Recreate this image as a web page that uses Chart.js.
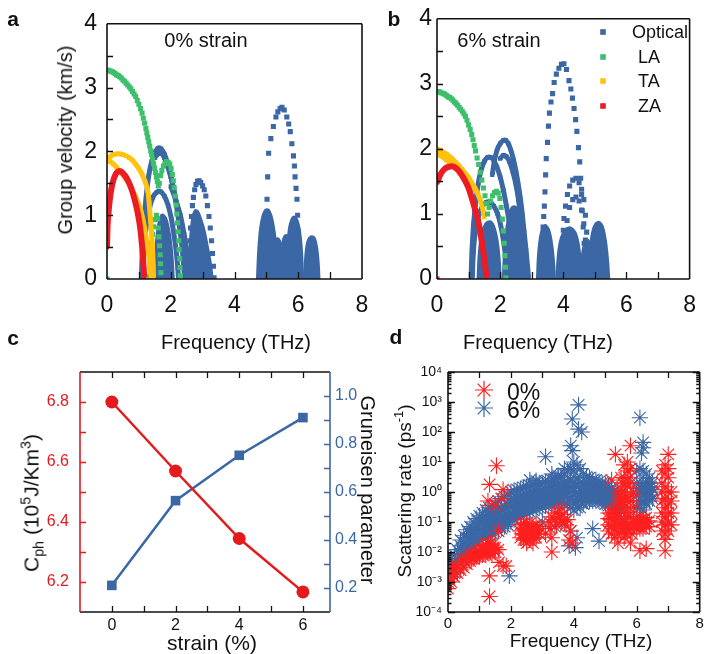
<!DOCTYPE html>
<html>
<head>
<meta charset="utf-8">
<script src="https://cdn.jsdelivr.net/npm/chart.js@4.4.1/dist/chart.umd.min.js"></script>
<style>
  body { margin: 0; background: #fff; }
  #wrap { position: relative; width: 709px; height: 654px; overflow: hidden; font-family: 'Liberation Sans', Arial, sans-serif; color: #111; }
  canvas { position: absolute; left: 0; top: 0; }
  .t { position: absolute; white-space: nowrap; line-height: 1; transform: translate(-50%, -50%); }
  .up { transform: translate(-50%, -50%) rotate(-90deg); }
  .down { transform: translate(-50%, -50%) rotate(90deg); }
  .lt { position: absolute; white-space: nowrap; line-height: 1; transform: translateY(-50%); }
  .b { font-weight: bold; font-size: 21px; }
  sub, sup { font-size: 0.68em; line-height: 0; }
</style>
</head>
<body>
<div id="wrap">
  <canvas id="pa" width="709" height="654"></canvas>
  <canvas id="pb" width="709" height="654"></canvas>
  <canvas id="pc" width="709" height="654"></canvas>
  <canvas id="pd" width="709" height="654"></canvas>

  <div class="t b" style="left:13px;top:18px">a</div>
  <div class="t b" style="left:394px;top:18px">b</div>
  <div class="t b" style="left:13px;top:337px">c</div>
  <div class="t b" style="left:396px;top:336px">d</div>

  <div class="t" style="left:206px;top:40px;font-size:20px">0% strain</div>
  <div class="t" style="left:499px;top:40px;font-size:20px">6% strain</div>

  <div class="lt" style="left:632px;top:32px;font-size:18px">Optical</div>
  <div class="lt" style="left:638px;top:57px;font-size:18px">LA</div>
  <div class="lt" style="left:638px;top:81px;font-size:18px">TA</div>
  <div class="lt" style="left:638px;top:106px;font-size:18px">ZA</div>

  <div class="t up" style="left:65px;top:140px;font-size:20px">Group velocity (km/s)</div>
  <div class="t" style="left:236px;top:342px;font-size:20px">Frequency (THz)</div>
  <div class="t" style="left:538px;top:342px;font-size:20px">Frequency (THz)</div>

  <div class="t up" style="left:31px;top:503px;font-size:21px">C<sub>ph</sub> (10<sup>5</sup>J/Km<sup>3</sup>)</div>
  <div class="t down" style="left:368px;top:490px;font-size:20px">Gruneisen parameter</div>
  <div class="t" style="left:212px;top:642px;font-size:21px">strain (%)</div>

  <div class="lt" style="left:507px;top:392px;font-size:23px">0%</div>
  <div class="lt" style="left:507px;top:410px;font-size:23px">6%</div>
  <div class="t up" style="left:404px;top:491px;font-size:19px">Scattering rate (ps<sup>-1</sup>)</div>
  <div class="t" style="left:581px;top:640px;font-size:19px">Frequency (THz)</div>
</div>

<script>
const W = 709, H = 654;
const F = "'Liberation Sans', Arial, sans-serif";
Chart.defaults.font.family = F;

const INK = '#111';
const BLUE = '#3b67a5', GREEN = '#3dbf6c', YELLOW = '#ffc20e', RED = '#ec1c24';
const C_RED = '#e41a1c', D_RED = '#ff1f1f';

// ---------- axes / ticks ----------
const abXLabels = [0, 2, 4, 6, 8];
const abYLabels = [0, 1, 2, 3, 4];
const abXMarks = [1, 2, 3, 4, 5, 6, 7];
const abYMarks = [0.5, 1, 1.5, 2, 2.5, 3, 3.5];

const cXLabels = [0, 2, 4, 6];
const cXMarks = [0, 1, 2, 3, 4, 5, 6];
const cYLabels = [6.2, 6.4, 6.6, 6.8];
const cYMarks = [6.2, 6.3, 6.4, 6.5, 6.6, 6.7, 6.8];
const cY2Labels = [0.2, 0.4, 0.6, 0.8, 1.0];
const cY2Marks = [0.2, 0.3, 0.4, 0.5, 0.6, 0.7, 0.8, 0.9, 1.0];

const dXLabels = [0, 2, 4, 6, 8];
const dXMarks = [1, 2, 3, 4, 5, 6, 7];
const dYLabels = [1e-4, 1e-3, 1e-2, 1e-1, 1, 1e1, 1e2, 1e3, 1e4];

// ---------- panel a (0% strain), points [frequency THz, group velocity km/s] ----------
const aZA = [
  [[0,0.5],[0.02,0.85],[0.05,1.05],[0.09,1.25],[0.14,1.42],[0.2,1.55],[0.27,1.64],[0.34,1.68],[0.42,1.69],[0.5,1.66],[0.58,1.61],[0.66,1.54],[0.74,1.45],[0.82,1.33],[0.9,1.18],[0.97,1.02],[1.03,0.84],[1.08,0.62],[1.12,0.4],[1.15,0.18],[1.17,0.02]]
];
const aTA = [
  [[0,1.88],[0.1,1.92],[0.2,1.95],[0.3,1.96],[0.4,1.96],[0.5,1.95],[0.6,1.93],[0.7,1.9],[0.8,1.86],[0.9,1.8],[1.0,1.73],[1.1,1.64],[1.2,1.52],[1.28,1.38],[1.32,1.2],[1.36,0.95],[1.4,0.7],[1.43,0.45],[1.45,0.2],[1.46,0.03]],
  [[0,1.86],[0.1,1.84],[0.2,1.8],[0.3,1.75],[0.4,1.69],[0.5,1.63],[0.6,1.56],[0.7,1.48],[0.8,1.39],[0.9,1.29],[1.0,1.17],[1.08,1.04],[1.15,0.88],[1.22,0.68],[1.28,0.48],[1.33,0.28],[1.37,0.1],[1.39,0.02]]
];
const aLA = [
  [[0,3.27],[0.05,3.27],[0.1,3.26],[0.15,3.25],[0.2,3.24],[0.25,3.22],[0.3,3.2],[0.35,3.19],[0.4,3.17],[0.45,3.15],[0.5,3.12],[0.55,3.1],[0.6,3.07],[0.65,3.04],[0.7,3.01],[0.75,2.98],[0.8,2.94],[0.85,2.9],[0.9,2.86],[0.95,2.8],[1.0,2.74],[1.05,2.67],[1.1,2.6],[1.14,2.52],[1.18,2.44],[1.22,2.36],[1.25,2.29],[1.28,2.22],[1.31,2.15],[1.34,2.08],[1.37,2.01],[1.4,1.95],[1.43,1.88],[1.46,1.81],[1.49,1.74],[1.52,1.67],[1.55,1.6],[1.58,1.53],[1.61,1.46]],
  [[1.64,1.5],[1.68,1.62],[1.72,1.7],[1.77,1.77],[1.82,1.81],[1.87,1.84],[1.92,1.83],[1.97,1.8],[2.01,1.73],[2.05,1.64],[2.08,1.54],[2.11,1.43],[2.14,1.3],[2.17,1.16],[2.19,1.02],[2.21,0.88],[2.23,0.74],[2.25,0.6],[2.26,0.46],[2.28,0.32],[2.29,0.18],[2.3,0.05]],
  [[1.34,0.04],[1.35,0.17],[1.36,0.3],[1.38,0.43],[1.4,0.56],[1.43,0.7],[1.46,0.82],[1.5,0.93],[1.55,1.0],[1.59,0.94],[1.61,0.8],[1.63,0.66],[1.65,0.52],[1.67,0.38],[1.68,0.24],[1.69,0.1]],
  [[0,0]]
];
const aOptLines = [
  [[1.08,0.02],[1.11,0.45],[1.16,0.9],[1.23,1.3],[1.31,1.62],[1.4,1.84],[1.5,1.98],[1.6,2.05],[1.7,2.04],[1.8,1.96],[1.9,1.82],[2.0,1.62],[2.1,1.38],[2.2,1.08],[2.3,0.72],[2.38,0.36],[2.43,0.02]],
  [[1.5,1.9],[1.6,1.96],[1.7,1.97],[1.8,1.9],[1.92,1.74],[2.04,1.52],[2.16,1.24],[2.28,0.9],[2.4,0.52],[2.5,0.2],[2.54,0.02]],
  [[1.1,0.02],[1.14,0.4],[1.22,0.78],[1.32,1.08],[1.44,1.28],[1.56,1.36],[1.68,1.37],[1.8,1.3],[1.92,1.15],[2.02,0.94],[2.1,0.7],[2.17,0.44],[2.22,0.18],[2.24,0.02]],
  [[2.0,1.45],[2.15,1.25],[2.3,1.0],[2.42,0.7],[2.52,0.4],[2.6,0.15],[2.64,0.02]]
];
const aOptFill = [
  [[1.5,0],[1.54,0.5],[1.62,0.85],[1.72,1.0],[1.84,0.95],[1.96,0.7],[2.04,0.35],[2.08,0]],
  [[2.58,0],[2.6,0.4],[2.64,0.75],[2.7,0.98],[2.77,1.07],[2.85,1.05],[2.95,0.92],[3.05,0.75],[3.15,0.5],[3.24,0.25],[3.3,0]],
  [[4.72,0],[4.76,0.45],[4.82,0.8],[4.9,1.0],[4.98,1.08],[5.06,1.08],[5.14,1.0],[5.22,0.82],[5.3,0.52],[5.36,0.2],[5.38,0]],
  [[5.15,0],[5.2,0.35],[5.27,0.56],[5.35,0.63],[5.43,0.57],[5.5,0.38],[5.55,0]],
  [[5.42,0],[5.47,0.4],[5.54,0.62],[5.62,0.68],[5.7,0.62],[5.76,0.4],[5.8,0]],
  [[5.62,0],[5.66,0.45],[5.72,0.78],[5.8,0.93],[5.88,0.97],[5.96,0.92],[6.04,0.75],[6.1,0.45],[6.14,0]],
  [[6.2,0],[6.24,0.38],[6.3,0.58],[6.4,0.66],[6.5,0.64],[6.58,0.48],[6.63,0.22],[6.65,0]]
];
const aOptDots = [
  [[2.56,0.02],[2.57,0.2],[2.58,0.4],[2.6,0.6],[2.62,0.8],[2.65,0.98],[2.68,1.15],[2.71,1.28],[2.75,1.4],[2.79,1.48],[2.84,1.53],[2.89,1.54],[2.94,1.51],[3.0,1.46],[3.05,1.4],[3.1,1.3],[3.15,1.15],[3.2,0.98],[3.24,0.8],[3.28,0.6],[3.31,0.4],[3.34,0.2],[3.36,0.02]],
  [[4.86,0.02],[4.9,0.3],[4.95,0.6],[4.99,0.92],[5.02,1.25],[5.04,1.6],[5.07,1.97],[5.14,2.2],[5.22,2.39],[5.3,2.54],[5.36,2.62],[5.43,2.67],[5.49,2.69],[5.56,2.65],[5.64,2.54],[5.7,2.43],[5.75,2.31],[5.8,2.12],[5.85,1.93],[5.88,1.77],[5.9,1.6],[5.93,1.42],[5.96,1.25],[5.98,1.0],[6.0,0.75],[6.02,0.5],[6.03,0.25],[6.04,0.02]]
];

// ---------- panel b (6% strain) ----------
const bZA = [
  [[0,1.48],[0.04,1.53],[0.1,1.6],[0.18,1.66],[0.26,1.7],[0.34,1.72],[0.42,1.73],[0.5,1.73],[0.58,1.71],[0.66,1.68],[0.74,1.63],[0.82,1.57],[0.9,1.5],[0.98,1.42],[1.06,1.31],[1.14,1.18],[1.22,1.04],[1.3,0.9],[1.37,0.72],[1.43,0.54],[1.49,0.34],[1.54,0.14],[1.57,0.02]]
];
const bZADots = [[[0,0]]];
const bTA = [
  [[0,2.0],[0.1,1.98],[0.2,1.95],[0.3,1.92],[0.4,1.88],[0.5,1.84],[0.6,1.79],[0.7,1.74],[0.8,1.68],[0.9,1.62],[1.0,1.56],[1.1,1.48],[1.2,1.4],[1.3,1.3],[1.38,1.2],[1.45,1.08],[1.5,0.95]],
  [[0,1.92],[0.1,1.9],[0.2,1.87],[0.3,1.83],[0.4,1.79],[0.5,1.75],[0.6,1.7],[0.7,1.64],[0.8,1.58],[0.9,1.52],[1.0,1.45],[1.1,1.37]]
];
const bLA = [
  [[0,2.88],[0.05,2.88],[0.1,2.87],[0.15,2.86],[0.2,2.85],[0.25,2.84],[0.3,2.82],[0.35,2.8],[0.4,2.79],[0.45,2.77],[0.5,2.75],[0.55,2.72],[0.6,2.7],[0.65,2.67],[0.7,2.64],[0.75,2.61],[0.8,2.58],[0.85,2.54],[0.9,2.5],[0.95,2.44],[1.0,2.37],[1.05,2.3],[1.1,2.22],[1.14,2.14],[1.18,2.05],[1.22,1.97],[1.27,1.86],[1.32,1.76],[1.37,1.64],[1.42,1.52],[1.47,1.4],[1.52,1.28],[1.56,1.16]],
  [[1.6,1.0],[1.65,1.1],[1.7,1.2],[1.76,1.28],[1.82,1.33],[1.88,1.35],[1.94,1.32],[1.99,1.24],[2.03,1.1],[2.07,0.92],[2.1,0.74],[2.13,0.55],[2.15,0.36],[2.17,0.18],[2.18,0.02]]
];
const bOptLines = [
  [[1.08,0.02],[1.11,0.45],[1.16,0.85],[1.23,1.2],[1.31,1.48],[1.4,1.68],[1.5,1.81],[1.6,1.87],[1.7,1.87],[1.8,1.82],[1.9,1.72],[2.0,1.57],[2.1,1.37],[2.2,1.12],[2.3,0.84],[2.4,0.54],[2.5,0.24],[2.56,0.02]],
  [[1.75,1.6],[1.82,1.82],[1.9,1.98],[2.0,2.08],[2.1,2.13],[2.18,2.13],[2.26,2.08],[2.34,1.98],[2.42,1.84],[2.5,1.66],[2.57,1.46],[2.64,1.24],[2.7,1.0],[2.76,0.72],[2.82,0.44],[2.87,0.18],[2.9,0.02]],
  [[2.0,1.85],[2.1,1.9],[2.2,1.88],[2.3,1.8],[2.4,1.65],[2.5,1.45],[2.58,1.22],[2.65,0.95],[2.72,0.65],[2.78,0.35],[2.82,0.02]],
  [[1.12,0.02],[1.15,0.4],[1.22,0.75],[1.32,0.98],[1.44,1.12],[1.56,1.18],[1.68,1.18],[1.8,1.12],[1.92,1.0],[2.02,0.82],[2.1,0.6],[2.17,0.36],[2.22,0.12],[2.24,0.02]]
];
const bOptFill = [
  [[1.3,0],[1.34,0.4],[1.42,0.7],[1.55,0.85],[1.68,0.88],[1.8,0.8],[1.9,0.6],[1.97,0.3],[2.0,0]],
  [[2.1,0],[2.15,0.5],[2.25,0.9],[2.38,1.1],[2.5,1.1],[2.6,0.85],[2.7,0.4],[2.75,0]],
  [[3.18,0],[3.22,0.4],[3.3,0.7],[3.42,0.82],[3.54,0.75],[3.64,0.5],[3.7,0.2],[3.72,0]],
  [[3.8,0],[3.85,0.4],[3.95,0.65],[4.1,0.77],[4.25,0.78],[4.4,0.68],[4.5,0.45],[4.56,0]],
  [[4.55,0],[4.6,0.35],[4.68,0.55],[4.76,0.6],[4.84,0.52],[4.9,0.3],[4.93,0]],
  [[4.8,0],[4.84,0.4],[4.92,0.7],[5.02,0.84],[5.13,0.87],[5.24,0.8],[5.33,0.6],[5.4,0.3],[5.44,0]]
];
const bOptDots = [
  [[3.36,0.8],[3.38,0.96],[3.4,1.12],[3.42,1.34],[3.44,1.6],[3.46,1.85],[3.5,2.1],[3.53,2.35],[3.56,2.55],[3.61,2.72],[3.66,2.85],[3.71,3.02],[3.78,3.15],[3.86,3.24],[3.94,3.3],[4.02,3.31],[4.1,3.22],[4.18,3.05],[4.24,2.92],[4.29,2.78],[4.34,2.62],[4.39,2.45],[4.43,2.27],[4.48,2.02],[4.52,1.8],[4.55,1.55],[4.58,1.3],[4.6,1.05],[4.63,0.8],[4.66,0.55],[4.69,0.3],[4.71,0.05]],
  [[3.93,0.1],[3.95,0.35],[3.97,0.55],[4.0,0.75],[4.02,0.93],[4.07,1.12],[4.13,1.3],[4.2,1.43],[4.3,1.52],[4.4,1.55],[4.5,1.48],[4.58,1.38],[4.65,1.22],[4.7,0.98],[4.74,0.72],[4.77,0.45],[4.79,0.2],[4.8,0.02]],
  [[4.05,0.6],[4.12,0.9],[4.2,1.1],[4.3,1.22],[4.4,1.26],[4.5,1.2],[4.58,1.06],[4.65,0.85],[4.7,0.6]]
];

// ---------- panel c ----------
const cStrain = [0, 2, 4, 6];
const cCph = [6.80, 6.57, 6.345, 6.167];
const cGruneisen = [0.211, 0.564, 0.753, 0.91];

// ---------- panel d, points [frequency THz, scattering rate ps^-1] ----------
const dRate0 = [
  [0.0,6e-4],[0.0,1e-3],[0.05,1.5e-3],[0.1,1e-3],[0.1,1.8e-3],[0.15,3e-3],[0.2,1.5e-3],[0.2,2.5e-3],[0.3,2e-3],[0.3,3.5e-3],[0.4,2.5e-3],[0.4,4.5e-3],[0.5,3e-3],[0.5,5.5e-3],[0.6,4e-3],[0.6,6.5e-3],[0.7,5e-3],[0.7,8e-3],[0.8,6e-3],[0.8,9e-3],[0.9,7e-3],[0.9,1e-2],[1.0,7e-3],[1.0,1.1e-2],[1.1,8e-3],[1.1,1.2e-2],[1.1,1.6e-2],[1.2,8e-3],[1.2,1.2e-2],[1.2,1.7e-2],[1.3,9e-3],[1.3,1.3e-2],[1.3,1.8e-2],[1.4,9e-3],[1.4,1.3e-2],[1.4,1.7e-2],[1.5,1e-2],[1.5,1.4e-2],[1.6,1.2e-2],
  [0.75,6e-3],[0.85,7e-3],[0.95,8e-3],[1.15,1e-2],[1.25,1e-2],[1.35,1.1e-2],[1.45,1.2e-2],[1.25,1.5e-2],[1.35,2e-2],
  [1.32,1.6e-3],[1.32,3.3e-4],[1.54,7.5],[1.32,1.8],[1.27,0.5],[1.75,1.2],[1.7,0.6],[1.85,3.4e-3],[1.75,3.4e-3],[1.62,4.5e-3],[1.5,0.35],[1.6,0.05],
  [2.3,3e-2],[2.3,5e-2],[2.3,8e-2],[2.4,2.5e-2],[2.4,4e-2],[2.4,6e-2],[2.4,9e-2],[2.5,2.5e-2],[2.5,4e-2],[2.5,6e-2],[2.5,9e-2],[2.6,2.5e-2],[2.6,4e-2],[2.6,6e-2],[2.6,9e-2],[2.7,3e-2],[2.7,5e-2],[2.7,7e-2],[2.8,3e-2],[2.8,5e-2],[2.8,8e-2],[2.9,4e-2],[2.9,7e-2],[2.5,2e-2],[2.7,2e-2],
  [2.35,4e-2],[2.45,5e-2],[2.55,5e-2],[2.65,5e-2],[2.75,4e-2],[2.85,6e-2],
  [3.1,0.04],[3.2,0.1],[3.25,0.06],[3.3,0.15],[3.3,0.01],[3.3,0.03],[3.4,0.12],[3.45,0.08],[3.5,0.2],[3.55,0.15],[3.6,0.1],[3.65,0.18],[3.7,0.1],[3.75,0.08],[3.8,0.12],[3.85,0.025],[3.9,0.05],[3.95,0.02],[3.4,0.2],[3.6,0.3],
  [5.1,0.05],[5.1,0.08],[5.1,0.13],[5.1,0.2],[5.2,0.04],[5.2,0.07],[5.2,0.12],[5.2,0.2],[5.3,0.03],[5.3,0.06],[5.3,0.1],[5.3,0.2],[5.35,0.3],[5.4,0.04],[5.4,0.08],[5.4,0.15],[5.4,0.4],[5.4,1],[5.45,0.15],[5.45,0.6],
  [5.5,0.05],[5.5,0.1],[5.5,0.3],[5.5,1],[5.5,3],[5.55,0.07],[5.55,0.5],[5.55,2],[5.6,0.05],[5.6,0.1],[5.6,0.3],[5.6,1],[5.6,3],[5.6,8],[5.65,0.04],[5.65,0.2],[5.65,0.7],[5.65,2],
  [5.7,0.06],[5.7,0.15],[5.7,0.5],[5.7,1.5],[5.7,5],[5.7,10],[5.75,0.08],[5.75,0.3],[5.75,3],[5.8,0.06],[5.8,0.15],[5.8,0.5],[5.8,2],[5.8,6],[5.85,0.04],[5.85,0.8],[5.9,0.07],[5.9,0.1],[5.9,0.3],[5.9,1],
  [6.0,0.06],[6.0,0.09],[6.0,0.13],[6.1,0.06],[6.1,0.09],[6.1,0.12],[6.2,0.06],[6.2,0.09],[6.2,0.12],[6.3,0.07],[6.3,0.1],[6.3,0.14],[6.4,0.07],[6.4,0.11],
  [5.32,18],[5.8,35],[5.2,2.5],[6.1,0.011],[6.3,0.013],[5.4,0.02],[5.8,0.02],[5.6,0.03],
  [6.8,0.05],[6.8,0.1],[6.8,0.2],[6.8,0.5],[6.8,1],[6.8,2],[6.8,5],[6.9,0.04],[6.9,0.08],[6.9,0.15],[6.9,0.3],[6.9,0.6],[6.9,1.5],[6.9,4],[6.9,8],[7.0,0.05],[7.0,0.1],[7.0,0.2],[7.0,0.4],[7.0,1],[7.0,3],[7.0,6],[7.1,0.08],[7.1,0.2],[7.1,0.5],[7.1,1],[7.0,18],[6.9,0.026],[6.9,0.011]
];
const dRate6 = [
  [0.0,1.5e-3],[0.0,2.5e-3],[0.0,4e-3],[0.1,2e-3],[0.1,3.5e-3],[0.1,6e-3],[0.2,2e-3],[0.2,4e-3],[0.2,8e-3],[0.3,3e-3],[0.3,6e-3],[0.3,1.2e-2],
  [0.4,4e-3],[0.4,8e-3],[0.4,1.6e-2],[0.4,2.5e-2],[0.5,5e-3],[0.5,1e-2],[0.5,2e-2],[0.5,3.5e-2],[0.6,8e-3],[0.6,1.5e-2],[0.6,3e-2],[0.6,5.5e-2],[0.7,1e-2],[0.7,2e-2],[0.7,4e-2],[0.7,7e-2],
  [0.8,1.5e-2],[0.8,3e-2],[0.8,6e-2],[0.8,0.1],[0.9,2e-2],[0.9,4e-2],[0.9,8e-2],[0.9,0.13],[1.0,2.5e-2],[1.0,5e-2],[1.0,0.1],[1.0,0.16],[1.1,3e-2],[1.1,6e-2],[1.1,0.12],[1.1,0.2],
  [1.2,3.2e-2],[1.2,7e-2],[1.2,0.14],[1.2,0.25],[1.3,3.5e-2],[1.3,8e-2],[1.3,0.16],[1.3,0.3],[1.4,4e-2],[1.4,9e-2],[1.4,0.18],[1.4,0.35],[1.5,4.5e-2],[1.5,0.1],[1.5,0.2],[1.5,0.4],
  [1.6,5e-2],[1.6,0.11],[1.6,0.23],[1.6,0.5],[1.7,6e-2],[1.7,0.13],[1.7,0.28],[1.7,0.6],[1.8,7e-2],[1.8,0.15],[1.8,0.32],[1.8,0.7],[1.9,8e-2],[1.9,0.17],[1.9,0.4],[1.9,0.8],
  [2.0,0.1],[2.0,0.2],[2.0,0.5],[2.0,1],[2.1,0.12],[2.1,0.25],[2.1,0.55],[2.1,1.1],[2.2,0.15],[2.2,0.3],[2.2,0.6],[2.2,1.2],[2.3,0.16],[2.3,0.32],[2.3,0.7],[2.3,1.3],
  [2.4,0.18],[2.4,0.35],[2.4,0.7],[2.4,1.4],[2.5,0.2],[2.5,0.4],[2.5,0.8],[2.5,1.5],[2.6,0.22],[2.6,0.45],[2.6,0.9],[2.6,1.6],[2.7,0.25],[2.7,0.5],[2.7,1],[2.7,1.8],
  [2.8,0.28],[2.8,0.55],[2.8,1.1],[2.8,2],[2.9,0.3],[2.9,0.6],[2.9,1.1],[2.9,2],[3.0,0.3],[3.0,0.6],[3.0,1.2],[3.0,2],[3.1,0.35],[3.1,0.7],[3.1,1.3],[3.1,2.2],
  [3.2,0.4],[3.2,0.7],[3.2,1.3],[3.2,2.2],[3.3,0.4],[3.3,0.8],[3.3,1.4],[3.3,2.5],[3.4,0.45],[3.4,0.8],[3.4,1.5],[3.4,2.5],[3.5,0.45],[3.5,0.9],[3.5,1.6],[3.5,3],
  [3.6,0.45],[3.6,0.9],[3.6,1.8],[3.6,3.2],[3.7,0.4],[3.7,1],[3.7,2],[3.7,4],[3.8,0.4],[3.8,1],[3.8,2.2],[3.8,5],[3.9,0.3],[3.9,1],[3.9,2.5],[3.9,6],
  [4.0,0.25],[4.0,0.8],[4.0,2],[4.0,5],[4.0,10],[4.1,0.3],[4.1,1],[4.1,3],[4.1,8],[4.2,0.3],[4.2,0.8],[4.2,2],[4.2,6],[4.3,0.4],[4.3,0.9],[4.3,2],[4.3,4],
  [4.4,0.5],[4.4,1],[4.4,2],[4.4,3.2],[4.5,0.5],[4.5,1],[4.5,1.8],[4.5,3],[4.6,0.5],[4.6,0.9],[4.6,1.6],[4.6,2.5],[4.7,0.5],[4.7,0.9],[4.7,1.5],[4.7,2.5],
  [4.8,0.5],[4.8,0.9],[4.8,1.5],[4.8,2.2],[4.9,0.45],[4.9,0.8],[4.9,1.4],[4.9,2],[5.0,0.4],[5.0,0.7],[5.0,1.3],[5.0,2],[5.1,0.35],[5.1,0.6],[5.1,1.1],[5.1,1.6],
  [5.2,0.3],[5.2,0.5],[5.2,0.9],[5.2,1.3],[5.3,0.25],[5.3,0.4],[5.3,0.7],[5.3,1.1],[5.4,0.2],[5.4,0.35],[5.4,0.6],[5.4,1],[5.5,0.13],[5.5,0.3],[5.5,0.5],
  [6.0,0.3],[6.0,0.8],[6.0,2],[6.0,5],[6.1,0.3],[6.1,0.9],[6.1,2],[6.1,6],[6.2,0.25],[6.2,0.8],[6.2,2],[6.2,5],[6.3,0.4],[6.3,1],[6.3,2],[6.3,4],[6.4,0.5],[6.4,1],[6.4,2],[6.4,3],[6.5,0.6],[6.5,1.2],[6.5,2],
  [0.45,6e-3],[0.45,1.3e-2],[0.55,9e-3],[0.55,2e-2],[0.65,1.2e-2],[0.65,3e-2],[0.75,1.8e-2],[0.75,4e-2],[0.85,2.5e-2],[0.85,5.5e-2],[0.95,3e-2],[0.95,7e-2],[1.05,4e-2],[1.05,0.09],
  [1.15,4.5e-2],[1.15,0.1],[1.25,5e-2],[1.25,0.12],[1.35,6e-2],[1.35,0.14],[1.45,7e-2],[1.45,0.16],[1.55,8e-2],[1.55,0.18],[1.65,9e-2],[1.65,0.2],[1.75,0.1],[1.75,0.24],[1.85,0.12],[1.85,0.28],
  [1.95,0.14],[1.95,0.35],[2.05,0.17],[2.05,0.4],[2.15,0.2],[2.15,0.45],[2.25,0.22],[2.25,0.5],[2.35,0.25],[2.35,0.55],[2.45,0.28],[2.45,0.6],[2.55,0.3],[2.55,0.65],[2.65,0.35],[2.65,0.7],
  [2.75,0.4],[2.75,0.8],[2.85,0.45],[2.85,0.9],[2.95,0.45],[2.95,0.9],[3.05,0.5],[3.05,1],[3.15,0.5],[3.15,1],[3.25,0.55],[3.25,1.1],[3.35,0.6],[3.35,1.2],[3.45,0.6],[3.45,1.2],
  [3.55,0.65],[3.55,1.3],[3.65,0.7],[3.65,1.4],[3.75,0.7],[3.75,1.5],[3.85,0.6],[3.85,1.6],[3.95,0.5],[3.95,1.5],[4.05,0.5],[4.05,1.6],[4.15,0.5],[4.15,1.5],[4.25,0.6],[4.25,1.4],
  [4.35,0.7],[4.35,1.4],[4.45,0.7],[4.45,1.4],[4.55,0.7],[4.55,1.3],[4.65,0.7],[4.65,1.2],[4.75,0.7],[4.75,1.2],[4.85,0.65],[4.85,1.1],[4.95,0.6],[4.95,1],[5.05,0.55],[5.05,0.9],
  [5.15,0.45],[5.15,0.8],[5.25,0.4],[5.25,0.7],[5.35,0.3],[5.35,0.55],[5.45,0.25],[5.45,0.45],[6.05,0.5],[6.05,1.3],[6.15,0.5],[6.15,1.3],[6.25,0.5],[6.25,1.3],[6.35,0.7],[6.35,1.4],[6.45,0.8],[6.45,1.5],
  [1.95,1.6e-3],[3.1,15],[2.8,2.4],[3.5,3.5],[3.7,6],[3.95,24],[3.9,35],[3.95,270],[4.15,800],[4.15,125],[4.25,100],[6.1,300],[6.2,30],[6.2,45],[6.15,20],
  [4.8,2.3e-2],[4.05,1.4e-2],[3.85,1.6e-2],[3.0,0.1],[3.3,4],[2.6,2.5],[3.4,0.07],[3.9,0.05],[4.1,0.03],[4.6,0.06],[5.5,0.08],[6.0,0.1],[6.1,0.15],[2.5,0.4]
];

// ---------- helpers ----------
function drawStar(ctx, x, y, r) {
  ctx.beginPath();
  for (let k = 0; k < 4; k++) {
    const ang = k * Math.PI / 4;
    ctx.moveTo(x - r * Math.cos(ang), y - r * Math.sin(ang));
    ctx.lineTo(x + r * Math.cos(ang), y + r * Math.sin(ang));
  }
  ctx.stroke();
}

// frame, inward tick marks and legend keys
const frame = {
  id: 'frame',
  afterDraw(chart, args, o) {
    const ctx = chart.ctx, a = chart.chartArea;
    ctx.save();
    (o.marks || []).forEach(m => {
      const s = chart.scales[m.axis];
      ctx.strokeStyle = m.color;
      ctx.lineWidth = 1.3;
      ctx.beginPath();
      m.values.forEach(v => {
        const p = Math.round(s.getPixelForValue(v)) + 0.5;
        m.sides.forEach(sd => {
          if (sd === 'bottom') { ctx.moveTo(p, a.bottom); ctx.lineTo(p, a.bottom - m.len); }
          if (sd === 'top') { ctx.moveTo(p, a.top); ctx.lineTo(p, a.top + m.len); }
          if (sd === 'left') { ctx.moveTo(a.left, p); ctx.lineTo(a.left + m.len, p); }
          if (sd === 'right') { ctx.moveTo(a.right, p); ctx.lineTo(a.right - m.len, p); }
        });
      });
      ctx.stroke();
    });
    const sides = o.sides;
    ctx.lineWidth = 1.6;
    const line = (c, x1, y1, x2, y2) => { ctx.strokeStyle = c; ctx.beginPath(); ctx.moveTo(x1, y1); ctx.lineTo(x2, y2); ctx.stroke(); };
    line(sides.top, a.left, a.top, a.right, a.top);
    line(sides.bottom, a.left, a.bottom, a.right, a.bottom);
    line(sides.left, a.left, a.top, a.left, a.bottom);
    line(sides.right, a.right, a.top, a.right, a.bottom);
    (o.keys || []).forEach(k => {
      ctx.strokeStyle = k.color;
      ctx.fillStyle = k.color;
      if (k.style === 'rect') ctx.fillRect(k.x - k.r, k.y - k.r, 2 * k.r, 2 * k.r);
      else { ctx.lineWidth = 1.2; drawStar(ctx, k.x, k.y, k.r); }
    });
    ctx.restore();
  }
};

// scale box sizes are fixed so the plot area lands where the figure has it
function axis(type, min, max, labels, fmt, pad, size, color, dir, box, extra) {
  return Object.assign({
    type: type, min: min, max: max,
    grid: { display: false, drawTicks: false, tickLength: 0 },
    border: { display: false },
    afterFit: s => { if (dir === 'h') s.height = box; else s.width = box; },
    afterBuildTicks: s => { s.ticks = labels.map(v => ({ value: v })); },
    ticks: { padding: pad, color: color, font: { size: size }, autoSkip: false, maxRotation: 0, callback: v => fmt(v) }
  }, extra || {});
}

function toXY(pts) { return pts.map(p => ({ x: p[0], y: p[1] })); }

function arcSets(arcs, color, kind, width) {
  return arcs.map(pts => ({
    data: toXY(pts),
    borderColor: color,
    backgroundColor: color,
    pointStyle: 'rect',
    pointRadius: kind === 'dots' ? 3.6 : (kind === 'fill' ? 0 : 3),
    pointBorderWidth: 0,
    showLine: kind !== 'dots',
    borderWidth: kind === 'dots' ? 0 : width,
    tension: 0.35,
    fill: kind === 'fill' ? 'origin' : false
  }));
}

function bandChart(id, area, sets, yPad) {
  return new Chart(document.getElementById(id), {
    type: 'line',
    data: { datasets: sets },
    options: {
      responsive: false, animation: false, events: [],
      layout: { padding: { left: 0, top: area[1], right: W - area[2], bottom: 0 } },
      plugins: {
        legend: { display: false }, tooltip: { enabled: false },
        frame: {
          sides: { top: INK, bottom: INK, left: INK, right: INK },
          marks: [
            { axis: 'x', values: abXMarks, sides: ['bottom'], len: 7, color: INK },
            { axis: 'y', values: abYMarks, sides: ['left'], len: 6, color: INK }
          ],
          keys: id === 'pb' ? [
            { x: 603, y: 32, style: 'rect', r: 2.8, color: BLUE },
            { x: 603, y: 57, style: 'rect', r: 2.8, color: GREEN },
            { x: 603, y: 81, style: 'rect', r: 2.8, color: YELLOW },
            { x: 603, y: 106, style: 'rect', r: 2.8, color: RED }
          ] : []
        }
      },
      scales: {
        x: axis('linear', 0, 8, abXLabels, v => String(v), 13, 23, INK, 'h', H - area[3]),
        y: axis('linear', 0, 4, abYLabels, v => String(v), yPad, 23, INK, 'v', area[0])
      }
    },
    plugins: [frame]
  });
}

// ---------- panels a and b (first dataset is drawn on top) ----------
bandChart('pa', [107, 15, 362, 279], [].concat(
  arcSets(aZA, RED, 'line', 6),
  arcSets(aTA, YELLOW, 'line', 5),
  arcSets(aLA, GREEN, 'dots'),
  arcSets(aOptDots, BLUE, 'dots'),
  arcSets(aOptLines, BLUE, 'line', 5),
  arcSets(aOptFill, BLUE, 'fill', 3)
), 10);

bandChart('pb', [437, 15, 691, 279], [].concat(
  arcSets(bZA, RED, 'line', 6),
  arcSets(bZADots, RED, 'dots'),
  arcSets(bLA, GREEN, 'dots'),
  arcSets(bTA, YELLOW, 'line', 5),
  arcSets(bOptDots, BLUE, 'dots'),
  arcSets(bOptLines, BLUE, 'line', 5),
  arcSets(bOptFill, BLUE, 'fill', 3)
), 5);

// ---------- panel c ----------
new Chart(document.getElementById('pc'), {
  type: 'line',
  data: {
    datasets: [
      { data: cStrain.map((s, i) => ({ x: s, y: cCph[i] })), yAxisID: 'y',
        borderColor: C_RED, backgroundColor: C_RED, borderWidth: 2.5,
        pointStyle: 'circle', pointRadius: 6.5, pointBorderWidth: 0 },
      { data: cStrain.map((s, i) => ({ x: s, y: cGruneisen[i] })), yAxisID: 'y2',
        borderColor: BLUE, backgroundColor: BLUE, borderWidth: 2.5,
        pointStyle: 'rect', pointRadius: 6.8, pointBorderWidth: 0 }
    ]
  },
  options: {
    responsive: false, animation: false, events: [],
    layout: { padding: { left: 0, top: 372, right: 0, bottom: 0 } },
    plugins: {
      legend: { display: false }, tooltip: { enabled: false },
      frame: {
        sides: { top: INK, bottom: INK, left: C_RED, right: BLUE },
        marks: [
          { axis: 'x', values: cXMarks, sides: ['bottom', 'top'], len: 6, color: INK },
          { axis: 'y', values: cYMarks, sides: ['left'], len: 6, color: C_RED },
          { axis: 'y2', values: cY2Marks, sides: ['right'], len: 6, color: BLUE }
        ]
      }
    },
    scales: {
      x: axis('linear', -1, 6.85, cXLabels, v => String(v), 4, 16, INK, 'h', H - 612),
      y: axis('linear', 6.1, 6.9, cYLabels, v => v.toFixed(1), 11, 16, C_RED, 'v', 80),
      y2: axis('linear', 0.1, 1.1, cY2Labels, v => v.toFixed(1), 5, 16, BLUE, 'v', W - 330, { position: 'right' })
    }
  },
  plugins: [frame]
});

// ---------- panel d ----------
const SUP = { '-': '\u207B', '0': '\u2070', '1': '\u00B9', '2': '\u00B2', '3': '\u00B3', '4': '\u2074' };
function pow10Label(v) {
  const e = String(Math.round(Math.log10(v)));
  return '10' + e.split('').map(c => SUP[c]).join('');
}
const dYMinor = [];
dYLabels.slice(0, -1).forEach(d => { for (let k = 2; k <= 9; k++) dYMinor.push(d * k); });

new Chart(document.getElementById('pd'), {
  type: 'scatter',
  data: {
    datasets: [
      { label: '0%', data: toXY(dRate0), pointStyle: 'star', pointRadius: 8.2, borderWidth: 1.1, borderColor: D_RED, backgroundColor: D_RED },
      { label: '6%', data: toXY(dRate6), pointStyle: 'star', pointRadius: 8.2, borderWidth: 1.1, borderColor: BLUE, backgroundColor: BLUE }
    ]
  },
  options: {
    responsive: false, animation: false, events: [],
    layout: { padding: { left: 0, top: 372, right: W - 701, bottom: 0 } },
    plugins: {
      legend: { display: false }, tooltip: { enabled: false },
      frame: {
        sides: { top: INK, bottom: INK, left: INK, right: INK },
        marks: [
          { axis: 'x', values: dXMarks, sides: ['bottom', 'top'], len: 6, color: INK },
          { axis: 'y', values: dYLabels, sides: ['left', 'right'], len: 7, color: INK },
          { axis: 'y', values: dYMinor, sides: ['left', 'right'], len: 3.5, color: INK }
        ],
        keys: [
          { x: 484, y: 390, style: 'star', r: 9, color: D_RED },
          { x: 484, y: 408, style: 'star', r: 9, color: BLUE }
        ]
      }
    },
    scales: {
      x: axis('linear', 0, 8, dXLabels, v => String(v), 3, 15, INK, 'h', H - 612),
      y: axis('logarithmic', 1e-4, 1e4, dYLabels, pow10Label, 6, 14, INK, 'v', 448)
    }
  },
  plugins: [frame]
});
</script>
</body>
</html>
